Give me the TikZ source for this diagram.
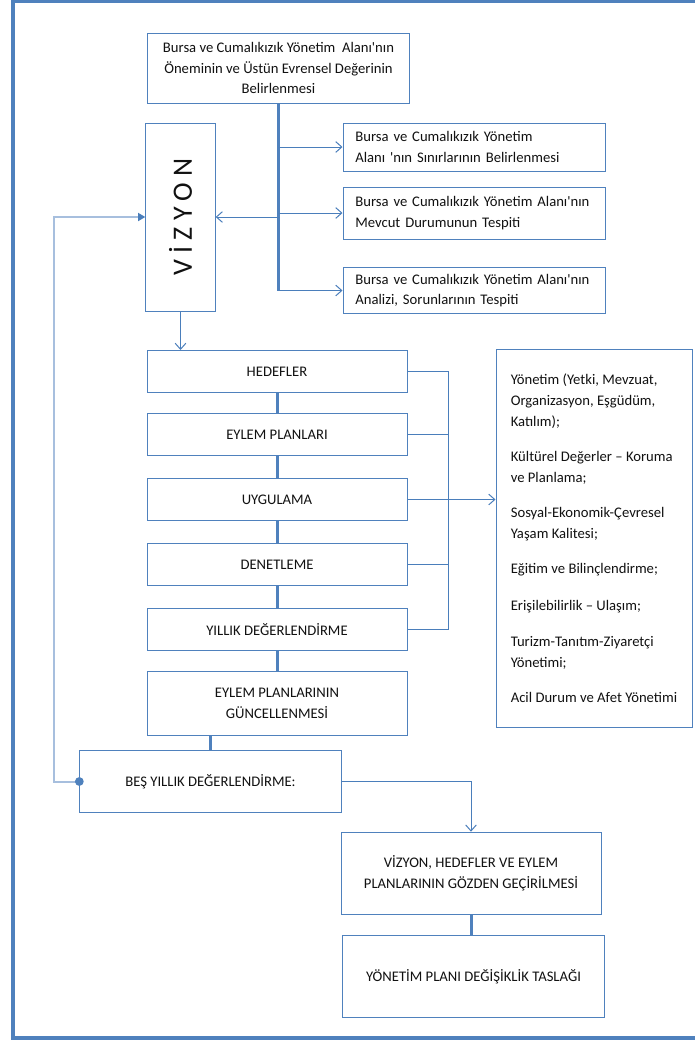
\documentclass[tikz,border=0pt]{standalone}
\usepackage{fontspec}
\setmainfont{Carlito}[Ligatures=TeXOff]
\usepackage{graphicx}
\usetikzlibrary{arrows.meta,positioning}
\definecolor{frameblue}{HTML}{4F81BD}
\definecolor{lineblue}{HTML}{4A7EBB}
\definecolor{paleblue}{HTML}{A7BFDE}
\definecolor{inkgray}{HTML}{111111}

\begin{document}
\begin{tikzpicture}[x=0.75pt,y=-0.75pt,font=\fontsize{11}{15.5}\selectfont,text=inkgray,
    box/.style={draw=frameblue,line width=0.75pt,inner sep=0pt,align=center},
    stepbox/.style={box,minimum width=195pt,minimum height=31.5pt},
    sidebox/.style={box,minimum width=196.5pt,text width=178pt,align=left},
    link/.style={draw=lineblue,line width=0.75pt},
    pipe/.style={draw=frameblue,line width=2.25pt},
    tip/.style={-{Straight Barb[length=4.5pt,width=8pt,line width=0.75pt]}}]
    \useasboundingbox (0,0) rectangle (694,1040);
    \draw[frameblue,line width=2.4pt] (13,1) rectangle (720,1038);

    \node (top) [box,minimum width=197pt,minimum height=52.5pt] at (278.5,68)
      {Bursa ve Cumalıkızık Yönetim~ Alanı'nın\\Öneminin ve Üstün Evrensel Değerinin\\Belirlenmesi};
    \node (vizyon) [box,minimum width=52pt,minimum height=141pt] at (180.5,217)
      {\rotatebox{90}{\fontsize{21}{21}\selectfont V İ Z Y O N}};
    \node (sinir) [sidebox,minimum height=36pt] at (474,147)
      {Bursa ve Cumalıkızık Yönetim\\Alanı 'nın Sınırlarının Belirlenmesi};
    \node (mevcut) [sidebox,minimum height=39pt] at (474,213)
      {Bursa ve Cumalıkızık Yönetim Alanı'nın\\Mevcut Durumunun Tespiti};
    \node (analiz) [sidebox,minimum height=35pt] at (474,290.5)
      {Bursa ve Cumalıkızık Yönetim Alanı'nın\\Analizi, Sorunlarının Tespiti};

    % yillik dongu
    \node (hedef) [stepbox] at (277,371.5) {HEDEFLER};
    \node (eylem) [stepbox,below=15pt of hedef] {EYLEM PLANLARI};
    \node (uygula) [stepbox,below=16.5pt of eylem] {UYGULAMA};
    \node (denet) [stepbox,below=16.5pt of uygula] {DENETLEME};
    \node (yillik) [stepbox,below=16.5pt of denet] {YILLIK DEĞERLENDİRME};
    \node (guncel) [stepbox,minimum height=48pt,below=15pt of yillik] {EYLEM PLANLARININ\\GÜNCELLENMESİ};

    \node (alanlar) [box,minimum width=147pt,minimum height=283pt,align=left] at (594,538.5)
      {Yönetim (Yetki, Mevzuat,\\Organizasyon, Eşgüdüm,\\Katılım);\\[11pt]
       Kültürel Değerler – Koruma\\ve Planlama;\\[11pt]
       Sosyal-Ekonomik-Çevresel\\Yaşam Kalitesi;\\[11pt]
       Eğitim ve Bilinçlendirme;\\[12pt]
       Erişilebilirlik – Ulaşım;\\[12pt]
       Turizm-Tanıtım-Ziyaretçi\\Yönetimi;\\[11pt]
       Acil Durum ve Afet Yönetimi};

    % bes yillik
    \node (bes) [box,minimum width=196pt,minimum height=47pt] at (210.5,781.5) {BEŞ YILLIK DEĞERLENDİRME:};
    \node (gozden) [box,minimum width=195pt,minimum height=62pt] at (471,873.5)
      {VİZYON, HEDEFLER VE EYLEM\\PLANLARININ GÖZDEN GEÇİRİLMESİ};
    \node (taslak) [box,minimum width=196pt,minimum height=62pt] at (473.5,976.5)
      {YÖNETİM PLANI DEĞİŞİKLİK TASLAĞI};

    \draw[pipe] (top.south) -- (top.south |- analiz.west);
    \foreach \n in {sinir,mevcut,analiz}
      \draw[link,tip] (top.south |- \n.west) -- (\n.west);
    \draw[link,tip] (top.south |- vizyon.east) -- (vizyon.east);
    \draw[link,tip] (vizyon.south) -- (vizyon.south |- hedef.north);

    \foreach \a/\b in {hedef/eylem,eylem/uygula,uygula/denet,denet/yillik,yillik/guncel}
      \draw[pipe] (\a) -- (\b);
    \draw[pipe] (bes.north |- guncel.south) -- (bes.north);
    \draw[pipe] (gozden.south) -- (gozden.south |- taslak.north);

    \coordinate (bus) at (448,0);
    \draw[link] (hedef.east) -| (bus |- yillik.east) -- (yillik.east);
    \foreach \n in {eylem,denet}
      \draw[link] (\n.east) -- (bus |- \n.east);
    \draw[link,tip] (uygula.east) -- (uygula.east -| alanlar.west);

    \draw[link,tip] (bes.east) -| (gozden.north);
    \draw[draw=paleblue,line width=1.5pt,-{Triangle[length=5.5pt,width=6pt,color=lineblue]}]
      (bes.west) -- ++(-25,0) |- (vizyon.west);
    \fill[frameblue] (bes.west) circle[radius=3.3pt];
  \end{tikzpicture}
\end{document}
